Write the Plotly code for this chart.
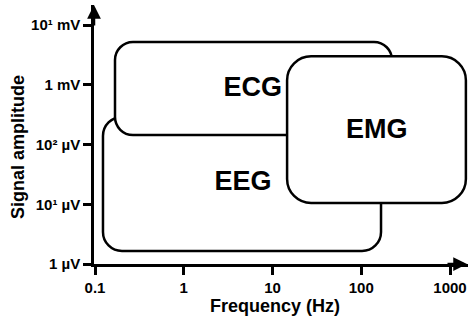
import numpy as np
import plotly.graph_objects as go

# ---- data (frequency in Hz, amplitude in µV) ----
signals = ["EEG", "ECG", "EMG"]                 # drawing order: bottom -> top
freq_low = [0.123, 0.168, 14.6]
freq_high = [167.0, 222.0, 1510.0]
amp_low = [1.65, 144.0, 10.5]
amp_high = [290.0, 5200.0, 3000.0]
label_freq = [4.66, 6.0, 150.0]
label_amp = [22.7, 850.0, 168.0]

x_tickvals = [0.1, 1, 10, 100, 1000]
x_ticktext = ["0.1", "1", "10", "100", "1000"]
y_tickvals = [1, 10, 100, 1000, 10000]
y_ticktext = ["1 µV", "10¹ µV", "10² µV", "1 mV", "10¹ mV"]

# ---- layout geometry ----
W, H = 468, 322
ML, MR, MT, MB = 94, 0, 5, 58
XR = [-1.0113, 3.2028]
YR = [0.0, 4.335]
px_per_dec_x = (W - ML - MR) / (XR[1] - XR[0])
px_per_dec_y = (H - MT - MB) / (YR[1] - YR[0])
radii_px = [19, 18, 24]
FONT = "Liberation Sans, Arial, sans-serif"


def rounded_path(f0, f1, a0, a1, r_px):
    lx0, lx1, ly0, ly1 = np.log10(f0), np.log10(f1), np.log10(a0), np.log10(a1)
    rx = r_px / px_per_dec_x
    ry = r_px / px_per_dec_y
    k = 1 - 0.5523
    def p(x, y):
        return f"{10 ** x:.6g},{10 ** y:.6g}"
    d = (
        f"M {p(lx0 + rx, ly1)} L {p(lx1 - rx, ly1)} "
        f"C {p(lx1 - rx * k, ly1)} {p(lx1, ly1 - ry * k)} {p(lx1, ly1 - ry)} "
        f"L {p(lx1, ly0 + ry)} "
        f"C {p(lx1, ly0 + ry * k)} {p(lx1 - rx * k, ly0)} {p(lx1 - rx, ly0)} "
        f"L {p(lx0 + rx, ly0)} "
        f"C {p(lx0 + rx * k, ly0)} {p(lx0, ly0 + ry * k)} {p(lx0, ly0 + ry)} "
        f"L {p(lx0, ly1 - ry)} "
        f"C {p(lx0, ly1 - ry * k)} {p(lx0 + rx * k, ly1)} {p(lx0 + rx, ly1)} Z"
    )
    return d


fig = go.Figure()

shapes = []
for i, name in enumerate(signals):
    shapes.append(dict(
        type="path", xref="x", yref="y", layer="below",
        path=rounded_path(freq_low[i], freq_high[i], amp_low[i], amp_high[i], radii_px[i]),
        fillcolor="white", line=dict(color="black", width=2.5),
    ))

fig.add_trace(go.Scatter(
    x=label_freq, y=label_amp, text=signals, mode="text",
    textfont=dict(family=FONT, size=27, color="black", weight="bold"),
    hoverinfo="skip", showlegend=False,
))

axis_common = dict(
    type="log", showgrid=False, zeroline=False, showline=True, automargin=False,
    linecolor="black", linewidth=2.5, ticks="outside", ticklen=8,
    tickwidth=2.5, tickcolor="black", ticklabeloverflow="allow",
    tickfont=dict(family=FONT, size=15, color="black", weight="bold"),
)

title_font = dict(family=FONT, size=18, color="black", weight="bold")
pw, ph = W - ML - MR, H - MT - MB

fig.update_layout(
    width=W, height=H,
    margin=dict(l=ML, r=MR, t=MT, b=MB, autoexpand=False),
    paper_bgcolor="white", plot_bgcolor="white",
    shapes=shapes,
    xaxis=dict(axis_common, range=XR, tickvals=x_tickvals, ticktext=x_ticktext),
    yaxis=dict(axis_common, range=YR, tickvals=y_tickvals, ticktext=y_ticktext),
    annotations=[
        dict(x=(275 - ML) / pw, y=-(306 - (H - MB)) / ph, xref="paper", yref="paper",
             text="Frequency (Hz)", showarrow=False, font=title_font,
             xanchor="center", yanchor="middle"),
        dict(x=(18 - ML) / pw, y=((H - MB) - 147) / ph, xref="paper", yref="paper",
             text="Signal amplitude", showarrow=False, font=title_font, textangle=-90,
             xanchor="center", yanchor="middle"),
        dict(x=1, y=0, xref="paper", yref="paper", ax=-22, ay=0, text="",
             showarrow=True, arrowhead=2, arrowsize=1.1, arrowwidth=2.5,
             arrowcolor="black"),
        dict(x=0, y=1, xref="paper", yref="paper", ax=0, ay=22, text="",
             showarrow=True, arrowhead=2, arrowsize=1.1, arrowwidth=2.5,
             arrowcolor="black"),
    ],
)

fig.write_html(
    "out.html",
    config={"displayModeBar": False},
    post_script="document.body.style.margin='0';document.body.style.padding='0';",
)
